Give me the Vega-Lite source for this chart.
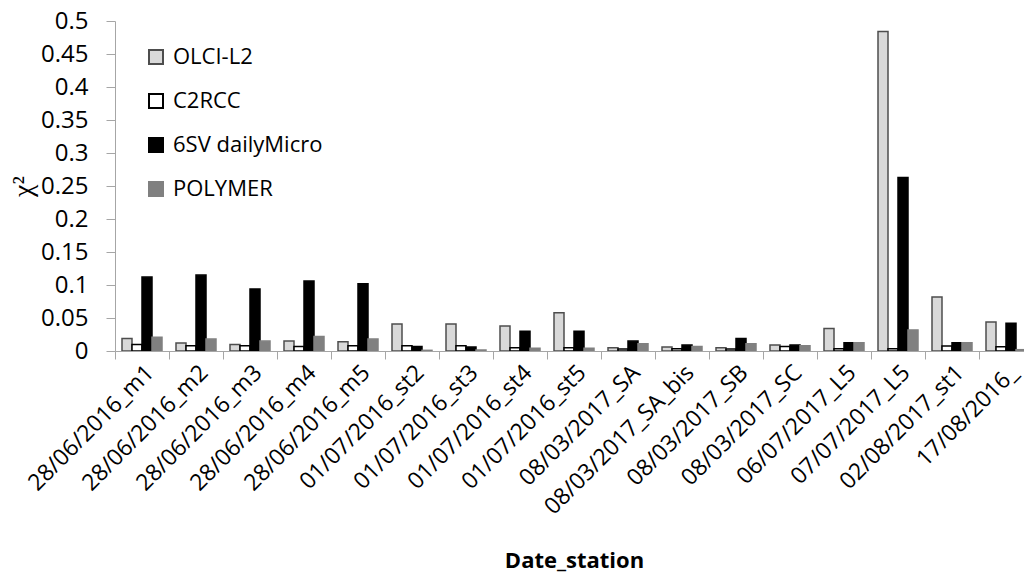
{
  "$schema": "https://vega.github.io/schema/vega-lite/v6.json",
  "width": 909,
  "height": 330,
  "autosize": "none",
  "padding": {"left": 115, "top": 21, "right": 0, "bottom": 225},
  "background": "white",
  "data": {
    "values": [
      {"station": "28/06/2016_m1", "product": "OLCI-L2", "chi2": 0.019},
      {"station": "28/06/2016_m1", "product": "C2RCC", "chi2": 0.010},
      {"station": "28/06/2016_m1", "product": "6SV dailyMicro", "chi2": 0.112},
      {"station": "28/06/2016_m1", "product": "POLYMER", "chi2": 0.021},
      {"station": "28/06/2016_m2", "product": "OLCI-L2", "chi2": 0.012},
      {"station": "28/06/2016_m2", "product": "C2RCC", "chi2": 0.008},
      {"station": "28/06/2016_m2", "product": "6SV dailyMicro", "chi2": 0.115},
      {"station": "28/06/2016_m2", "product": "POLYMER", "chi2": 0.018},
      {"station": "28/06/2016_m3", "product": "OLCI-L2", "chi2": 0.010},
      {"station": "28/06/2016_m3", "product": "C2RCC", "chi2": 0.008},
      {"station": "28/06/2016_m3", "product": "6SV dailyMicro", "chi2": 0.094},
      {"station": "28/06/2016_m3", "product": "POLYMER", "chi2": 0.015},
      {"station": "28/06/2016_m4", "product": "OLCI-L2", "chi2": 0.015},
      {"station": "28/06/2016_m4", "product": "C2RCC", "chi2": 0.007},
      {"station": "28/06/2016_m4", "product": "6SV dailyMicro", "chi2": 0.106},
      {"station": "28/06/2016_m4", "product": "POLYMER", "chi2": 0.022},
      {"station": "28/06/2016_m5", "product": "OLCI-L2", "chi2": 0.014},
      {"station": "28/06/2016_m5", "product": "C2RCC", "chi2": 0.008},
      {"station": "28/06/2016_m5", "product": "6SV dailyMicro", "chi2": 0.102},
      {"station": "28/06/2016_m5", "product": "POLYMER", "chi2": 0.018},
      {"station": "01/07/2016_st2", "product": "OLCI-L2", "chi2": 0.041},
      {"station": "01/07/2016_st2", "product": "C2RCC", "chi2": 0.008},
      {"station": "01/07/2016_st2", "product": "6SV dailyMicro", "chi2": 0.007},
      {"station": "01/07/2016_st2", "product": "POLYMER", "chi2": 0.001},
      {"station": "01/07/2016_st3", "product": "OLCI-L2", "chi2": 0.041},
      {"station": "01/07/2016_st3", "product": "C2RCC", "chi2": 0.008},
      {"station": "01/07/2016_st3", "product": "6SV dailyMicro", "chi2": 0.006},
      {"station": "01/07/2016_st3", "product": "POLYMER", "chi2": 0.0015},
      {"station": "01/07/2016_st4", "product": "OLCI-L2", "chi2": 0.038},
      {"station": "01/07/2016_st4", "product": "C2RCC", "chi2": 0.005},
      {"station": "01/07/2016_st4", "product": "6SV dailyMicro", "chi2": 0.030},
      {"station": "01/07/2016_st4", "product": "POLYMER", "chi2": 0.004},
      {"station": "01/07/2016_st5", "product": "OLCI-L2", "chi2": 0.058},
      {"station": "01/07/2016_st5", "product": "C2RCC", "chi2": 0.005},
      {"station": "01/07/2016_st5", "product": "6SV dailyMicro", "chi2": 0.030},
      {"station": "01/07/2016_st5", "product": "POLYMER", "chi2": 0.004},
      {"station": "08/03/2017_SA", "product": "OLCI-L2", "chi2": 0.005},
      {"station": "08/03/2017_SA", "product": "C2RCC", "chi2": 0.003},
      {"station": "08/03/2017_SA", "product": "6SV dailyMicro", "chi2": 0.015},
      {"station": "08/03/2017_SA", "product": "POLYMER", "chi2": 0.011},
      {"station": "08/03/2017_SA_bis", "product": "OLCI-L2", "chi2": 0.006},
      {"station": "08/03/2017_SA_bis", "product": "C2RCC", "chi2": 0.0035},
      {"station": "08/03/2017_SA_bis", "product": "6SV dailyMicro", "chi2": 0.009},
      {"station": "08/03/2017_SA_bis", "product": "POLYMER", "chi2": 0.007},
      {"station": "08/03/2017_SB", "product": "OLCI-L2", "chi2": 0.005},
      {"station": "08/03/2017_SB", "product": "C2RCC", "chi2": 0.003},
      {"station": "08/03/2017_SB", "product": "6SV dailyMicro", "chi2": 0.019},
      {"station": "08/03/2017_SB", "product": "POLYMER", "chi2": 0.011},
      {"station": "08/03/2017_SC", "product": "OLCI-L2", "chi2": 0.009},
      {"station": "08/03/2017_SC", "product": "C2RCC", "chi2": 0.007},
      {"station": "08/03/2017_SC", "product": "6SV dailyMicro", "chi2": 0.009},
      {"station": "08/03/2017_SC", "product": "POLYMER", "chi2": 0.008},
      {"station": "06/07/2017_L5", "product": "OLCI-L2", "chi2": 0.034},
      {"station": "06/07/2017_L5", "product": "C2RCC", "chi2": 0.0035},
      {"station": "06/07/2017_L5", "product": "6SV dailyMicro", "chi2": 0.0125},
      {"station": "06/07/2017_L5", "product": "POLYMER", "chi2": 0.0125},
      {"station": "07/07/2017_L5", "product": "OLCI-L2", "chi2": 0.484},
      {"station": "07/07/2017_L5", "product": "C2RCC", "chi2": 0.0035},
      {"station": "07/07/2017_L5", "product": "6SV dailyMicro", "chi2": 0.263},
      {"station": "07/07/2017_L5", "product": "POLYMER", "chi2": 0.032},
      {"station": "02/08/2017_st1", "product": "OLCI-L2", "chi2": 0.082},
      {"station": "02/08/2017_st1", "product": "C2RCC", "chi2": 0.0075},
      {"station": "02/08/2017_st1", "product": "6SV dailyMicro", "chi2": 0.0125},
      {"station": "02/08/2017_st1", "product": "POLYMER", "chi2": 0.0125},
      {"station": "17/08/2016_", "product": "OLCI-L2", "chi2": 0.044},
      {"station": "17/08/2016_", "product": "C2RCC", "chi2": 0.0065},
      {"station": "17/08/2016_", "product": "6SV dailyMicro", "chi2": 0.042},
      {"station": "17/08/2016_", "product": "POLYMER", "chi2": 0.002}
    ]
  },
  "mark": {"type": "bar", "strokeWidth": 1.5, "clip": true},
  "encoding": {
    "x": {
      "field": "station",
      "type": "nominal",
      "sort": null,
      "scale": {"paddingInner": 0, "paddingOuter": 0, "range": [0, 918]},
      "axis": {
        "title": "Date_station",
        "titleFont": "Open Sans",
        "titleFontSize": 22,
        "titleFontWeight": "bold",
        "titleColor": "#000000",
        "titlePadding": 32,
        "labelFont": "Open Sans",
        "labelFontSize": 23,
        "labelColor": "#000000",
        "labelAngle": -45,
        "labelPadding": 2,
        "labelLimit": 0,
        "labelOverlap": false,
        "tickBand": "extent",
        "tickSize": 8,
        "tickColor": "#a6a6a6",
        "domainColor": "#a6a6a6",
        "grid": false
      }
    },
    "xOffset": {
      "field": "product",
      "type": "nominal",
      "scale": {
        "domain": ["OLCI-L2", "C2RCC", "6SV dailyMicro", "POLYMER"],
        "paddingInner": 0,
        "paddingOuter": 0.7
      }
    },
    "y": {
      "field": "chi2",
      "type": "quantitative",
      "scale": {"domain": [0, 0.5], "nice": false},
      "axis": {
        "title": "χ²",
        "titleFont": "Liberation Serif",
        "titleFontSize": 28,
        "titleFontWeight": "normal",
        "titleColor": "#000000",
        "titlePadding": 3,
        "values": [0, 0.05, 0.1, 0.15, 0.2, 0.25, 0.3, 0.35, 0.4, 0.45, 0.5],
        "format": ".2~f",
        "labelFont": "Open Sans",
        "labelFontSize": 24,
        "labelColor": "#000000",
        "labelPadding": 18,
        "tickSize": 9,
        "tickColor": "#a6a6a6",
        "domainColor": "#a6a6a6",
        "grid": false
      }
    },
    "fill": {
      "field": "product",
      "type": "nominal",
      "scale": {
        "domain": ["OLCI-L2", "C2RCC", "6SV dailyMicro", "POLYMER"],
        "range": ["#d9d9d9", "#ffffff", "#000000", "#808080"]
      },
      "legend": {
        "title": null,
        "orient": "none",
        "legendX": 30,
        "legendY": 25,
        "padding": 0,
        "symbolType": "square",
        "symbolSize": 196,
        "symbolStrokeWidth": 2,
        "symbolOpacity": 1,
        "labelFont": "Open Sans",
        "labelFontSize": 22,
        "labelColor": "#000000",
        "labelOffset": 6,
        "rowPadding": 22
      }
    },
    "stroke": {
      "field": "product",
      "type": "nominal",
      "scale": {
        "domain": ["OLCI-L2", "C2RCC", "6SV dailyMicro", "POLYMER"],
        "range": ["#4d4d4d", "#000000", "#000000", "#808080"]
      }
    }
  },
  "config": {"view": {"stroke": null}}
}
